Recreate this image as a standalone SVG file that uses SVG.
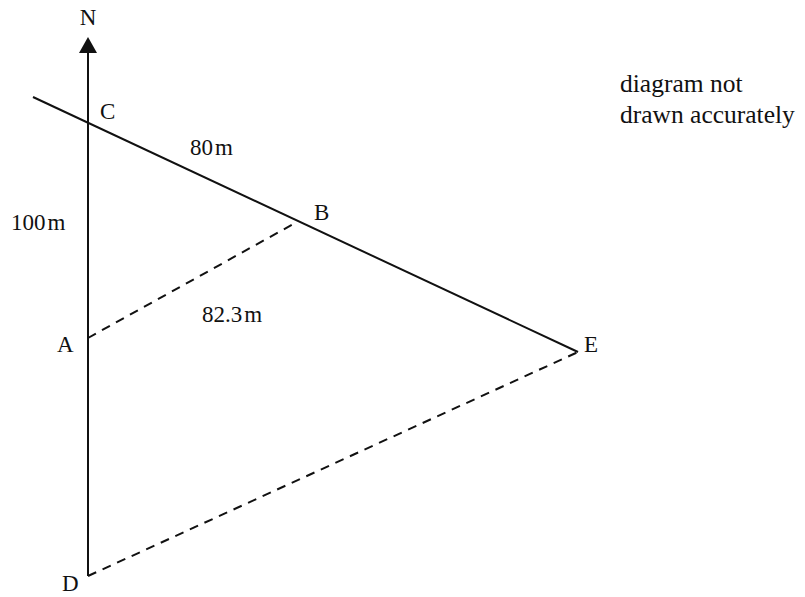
<svg xmlns="http://www.w3.org/2000/svg" width="805" height="597" viewBox="0 0 805 597">
<style>
text{font-family:"Liberation Serif","Times New Roman",serif;fill:#111;}
.lbl{font-size:23px;}
.note{font-size:25.5px;}
.solid{stroke:#111;stroke-width:2;fill:none;}
.dash{stroke:#111;stroke-width:2;fill:none;stroke-dasharray:9,7;}
</style>
<rect width="805" height="597" fill="#fff"/>
<g id="connectors">
<line class="solid" x1="88" y1="576" x2="88" y2="50"/>
<polygon points="88,37 79,53 97,53" fill="#111"/>
<line class="solid" x1="33" y1="97" x2="578" y2="352"/>
<line class="dash" x1="88" y1="338" x2="297" y2="222"/>
<line class="dash" x1="88" y1="576" x2="578" y2="352"/>
</g>
<g id="node-N"><text class="lbl" x="88" y="25" text-anchor="middle">N</text></g>
<g id="node-C"><text class="lbl" x="100" y="119">C</text></g>
<g id="node-B"><text class="lbl" x="314" y="220">B</text></g>
<g id="node-A"><text class="lbl" x="57" y="352">A</text></g>
<g id="node-E"><text class="lbl" x="584" y="352">E</text></g>
<g id="node-D"><text class="lbl" x="62" y="591">D</text></g>
<g id="labels">
<text class="lbl" x="190" y="155">80<tspan dx="2">m</tspan></text>
<text class="lbl" x="11" y="230">100<tspan dx="2">m</tspan></text>
<text class="lbl" x="202" y="322">82.3<tspan dx="2">m</tspan></text>
</g>
<g id="note">
<text class="note" x="620" y="92">diagram not</text>
<text class="note" x="620" y="123">drawn accurately</text>
</g>
</svg>
